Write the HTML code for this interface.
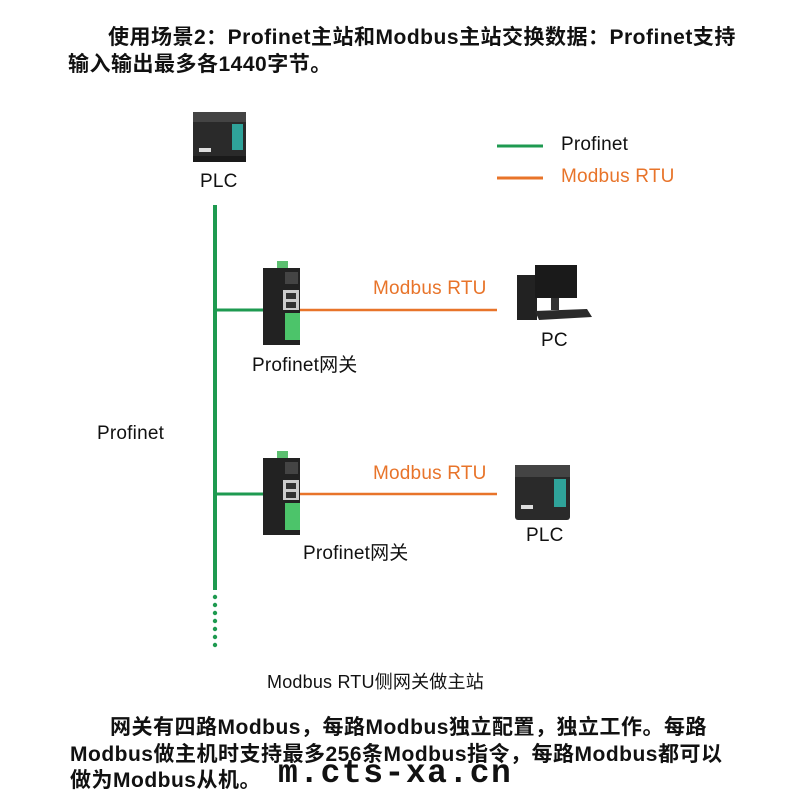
<!DOCTYPE html>
<html><head><meta charset="utf-8"><style>
body{margin:0;width:800px;height:800px;background:#fff;position:relative;overflow:hidden;font-family:"Liberation Sans","Noto Sans CJK SC",sans-serif;color:#111}
.t{position:absolute;white-space:nowrap}
.b{font-weight:bold;font-size:21px;letter-spacing:0.5px}
.l{font-size:19px;letter-spacing:0.2px}
.o{color:#e8742a}
</style></head><body>
<div class="t b" style="left:108px;top:21px">使用场景2：Profinet主站和Modbus主站交换数据：Profinet支持</div>
<div class="t b" style="left:68px;top:48px">输入输出最多各1440字节。</div>

<svg width="800" height="800" style="position:absolute;left:0;top:0">
 <line x1="497" y1="146" x2="543" y2="146" stroke="#1e9a50" stroke-width="3"/>
 <line x1="497" y1="178" x2="543" y2="178" stroke="#e8742a" stroke-width="3"/>
 <line x1="215" y1="205" x2="215" y2="590" stroke="#1e9a50" stroke-width="4"/>
 <g fill="#1e9a50"><circle cx="215" cy="597" r="2.2"/><circle cx="215" cy="605" r="2.2"/><circle cx="215" cy="613" r="2.2"/><circle cx="215" cy="621" r="2.2"/><circle cx="215" cy="629" r="2.2"/><circle cx="215" cy="637" r="2.2"/><circle cx="215" cy="645" r="2.2"/></g>
 <line x1="215" y1="310" x2="264" y2="310" stroke="#1e9a50" stroke-width="3"/>
 <line x1="215" y1="494" x2="264" y2="494" stroke="#1e9a50" stroke-width="3"/>
 <line x1="300" y1="310" x2="497" y2="310" stroke="#e8742a" stroke-width="2.5"/>
 <line x1="300" y1="494" x2="497" y2="494" stroke="#e8742a" stroke-width="2.5"/>
 <g transform="translate(193,112)">
  <rect x="0" y="0" width="53" height="50" rx="3" fill="#2a2a2a"/>
  <rect x="0" y="0" width="53" height="10" fill="#444"/>
  <rect x="39" y="12" width="11" height="26" fill="#2fa39a"/>
  <rect x="6" y="36" width="12" height="4" fill="#ddd"/>
  <rect x="0" y="44" width="53" height="6" fill="#1a1a1a"/>
 </g>
 <g transform="translate(263,268)">
  <rect x="14" y="-7" width="11" height="8" fill="#5cbf70"/>
  <rect x="0" y="0" width="37" height="77" fill="#222"/>
  <rect x="22" y="4" width="13" height="12" fill="#444"/>
  <rect x="20" y="22" width="16" height="20" fill="#ccc"/>
  <rect x="23" y="25" width="10" height="6" fill="#333"/>
  <rect x="23" y="34" width="10" height="6" fill="#333"/>
  <rect x="22" y="45" width="15" height="27" fill="#4cc46a"/>
 </g>
 <g transform="translate(263,458)">
  <rect x="14" y="-7" width="11" height="8" fill="#5cbf70"/>
  <rect x="0" y="0" width="37" height="77" fill="#222"/>
  <rect x="22" y="4" width="13" height="12" fill="#444"/>
  <rect x="20" y="22" width="16" height="20" fill="#ccc"/>
  <rect x="23" y="25" width="10" height="6" fill="#333"/>
  <rect x="23" y="34" width="10" height="6" fill="#333"/>
  <rect x="22" y="45" width="15" height="27" fill="#4cc46a"/>
 </g>
 <g transform="translate(517,265)">
  <rect x="0" y="10" width="20" height="45" fill="#222"/>
  <rect x="18" y="0" width="42" height="33" fill="#1a1a1a"/>
  <rect x="34" y="33" width="8" height="12" fill="#333"/>
  <polygon points="18,46 70,44 75,52 22,55" fill="#2a2a2a"/>
 </g>
 <g transform="translate(515,465)">
  <rect x="0" y="0" width="55" height="55" rx="3" fill="#2a2a2a"/>
  <rect x="0" y="0" width="55" height="12" fill="#444"/>
  <rect x="39" y="14" width="12" height="28" fill="#2fa39a"/>
  <rect x="6" y="40" width="12" height="4" fill="#ddd"/>
 </g>
</svg>

<div class="t l" style="left:561px;top:134px">Profinet</div>
<div class="t l o" style="left:561px;top:166px">Modbus RTU</div>
<div class="t l" style="left:200px;top:171px">PLC</div>
<div class="t l o" style="left:373px;top:278px">Modbus RTU</div>
<div class="t l" style="left:541px;top:330px">PC</div>
<div class="t l" style="left:252px;top:350px">Profinet网关</div>
<div class="t l" style="left:97px;top:423px">Profinet</div>
<div class="t l o" style="left:373px;top:463px">Modbus RTU</div>
<div class="t l" style="left:526px;top:525px">PLC</div>
<div class="t l" style="left:303px;top:538px">Profinet网关</div>
<div class="t l" style="left:267px;top:668px;font-size:18px">Modbus RTU侧网关做主站</div>

<div class="t b" style="left:110px;top:711px">网关有四路Modbus，每路Modbus独立配置，独立工作。每路</div>
<div class="t b" style="left:70px;top:738px">Modbus做主机时支持最多256条Modbus指令，每路Modbus都可以</div>
<div class="t b" style="left:70px;top:764px">做为Modbus从机。</div>
<div class="t" style="left:278px;top:755px;font-family:'Liberation Mono',monospace;font-weight:bold;font-size:33px;letter-spacing:1.5px">m.cts-xa.cn</div>
</body></html>
